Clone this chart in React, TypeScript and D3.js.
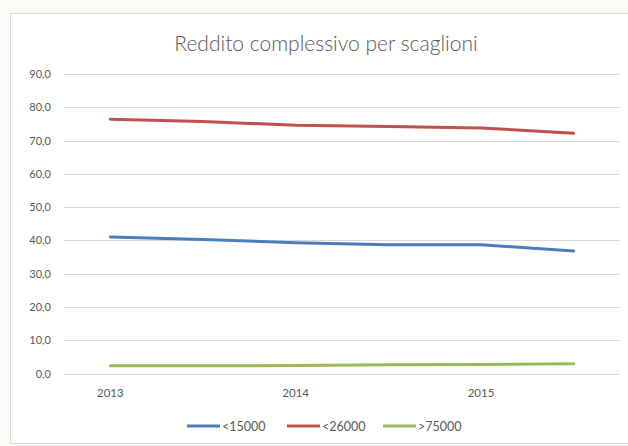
import { useEffect, useRef } from "react";
import * as d3 from "d3";

// six half-year periods, Excel shows a label every second category
const periods = ["2013-I", "2013-II", "2014-I", "2014-II", "2015-I", "2015-II"];
const tickLabels = ["2013", "", "2014", "", "2015", ""];

const below15000 = [41.0, 40.3, 39.3, 38.7, 38.7, 36.8];
const below26000 = [76.4, 75.7, 74.6, 74.2, 73.8, 72.2];
const above75000 = [2.3, 2.3, 2.4, 2.6, 2.7, 2.9];

const seriesNames = ["<15000", "<26000", ">75000"];
const seriesColors = ["#4a7ebb", "#c0504d", "#9bbb59"];
const yTicks = [0, 10, 20, 30, 40, 50, 60, 70, 80, 90];

const App = () => {
  const svgRef = useRef<SVGSVGElement | null>(null);

  useEffect(() => {
    if (!svgRef.current) return;
    const width = 628;
    const height = 446;
    const font = "Lato, 'Open Sans', sans-serif";
    const textColor = "#595959";

    const svg = d3.select(svgRef.current);
    svg.selectAll("*").remove();
    svg.attr("width", width).attr("height", height);

    svg.append("rect").attr("width", width).attr("height", height).attr("fill", "#fbfaf6");
    svg
      .append("rect")
      .attr("x", 10.5)
      .attr("y", 13.5)
      .attr("width", width + 10)
      .attr("height", 430)
      .attr("fill", "#ffffff")
      .attr("stroke", "#d9d9d9");

    svg
      .append("text")
      .attr("x", 326)
      .attr("y", 51)
      .attr("text-anchor", "middle")
      .attr("font-family", font)
      .attr("font-size", 21)
      .attr("font-weight", 300)
      .attr("fill", textColor)
      .text("Reddito complessivo per scaglioni");

    const x = d3.scaleBand<string>().domain(periods).range([64, 620]);
    const y = d3.scaleLinear().domain([0, 90]).range([373.5, 74]);

    const grid = svg.append("g");
    grid
      .selectAll("line")
      .data(yTicks)
      .join("line")
      .attr("x1", 64)
      .attr("x2", 620)
      .attr("y1", (d) => Math.round(y(d)) + 0.5)
      .attr("y2", (d) => Math.round(y(d)) + 0.5)
      .attr("stroke", "#d9d9d9")
      .attr("stroke-width", 1);

    const fmt = (v: number) => v.toFixed(1).replace(".", ",");
    svg
      .append("g")
      .selectAll("text")
      .data(yTicks)
      .join("text")
      .attr("x", 51)
      .attr("y", (d) => y(d) + 4)
      .attr("text-anchor", "end")
      .attr("font-family", font)
      .attr("font-size", 11)
      .attr("fill", textColor)
      .text((d) => fmt(d));

    const cx = (p: string) => (x(p) ?? 0) + x.bandwidth() / 2;

    svg
      .append("g")
      .selectAll("text")
      .data(periods)
      .join("text")
      .attr("x", (d) => cx(d))
      .attr("y", 397)
      .attr("text-anchor", "middle")
      .attr("font-family", font)
      .attr("font-size", 11.5)
      .attr("fill", textColor)
      .text((_, i) => tickLabels[i]);

    const allSeries = [below15000, below26000, above75000];
    const line = d3
      .line<number>()
      .x((_, i) => cx(periods[i]))
      .y((d) => y(d));

    svg
      .append("g")
      .selectAll("path")
      .data(allSeries)
      .join("path")
      .attr("fill", "none")
      .attr("stroke", (_, i) => seriesColors[i])
      .attr("stroke-width", 3)
      .attr("stroke-linejoin", "round")
      .attr("stroke-linecap", "round")
      .attr("d", (d) => line(d));

    const legendX = [187, 287, 383];
    const legend = svg
      .append("g")
      .selectAll("g")
      .data(seriesNames)
      .join("g")
      .attr("transform", (_, i) => `translate(${legendX[i]}, 426)`);
    legend
      .append("line")
      .attr("x1", 0)
      .attr("x2", 33)
      .attr("stroke", (_, i) => seriesColors[i])
      .attr("stroke-width", 3);
    legend
      .append("text")
      .attr("x", 35)
      .attr("y", 4.5)
      .attr("font-family", font)
      .attr("font-size", 12.5)
      .attr("fill", textColor)
      .text((d) => d);
  }, []);

  return (
    <svg
      ref={svgRef}
      style={{ position: "absolute", left: 0, top: 0, display: "block" }}
    />
  );
};

export default App;
